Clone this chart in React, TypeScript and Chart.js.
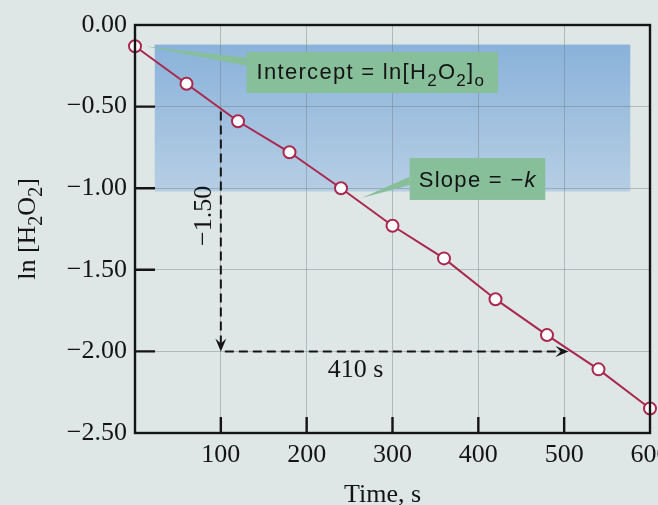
import { useEffect, useRef } from 'react';
import { Chart, registerables } from 'chart.js';

Chart.register(...registerables);

// ---- data ----
const times = [0, 60, 120, 180, 240, 300, 360, 420, 480, 540, 600];
const lnH2O2 = [-0.13, -0.36, -0.59, -0.78, -1.0, -1.23, -1.43, -1.68, -1.9, -2.11, -2.35];
const xRange = [0, 600];
const yRange = [-2.5, 0];
const xStep = 100;
const yStep = 0.5;

// ---- annotations (data units) ----
const shadeRegion = { x0: 23, x1: 577, y0: -0.12, y1: -1.02 };
const interceptBox = { x0: 130, x1: 423, y0: -0.165, y1: -0.417 };
const slopeBox = { x0: 320, x1: 478, y0: -0.815, y1: -1.072 };
const interceptLeader = { ax: 12, ay: -0.13, by0: -0.2, by1: -0.25 };
const slopeLeader = { ax: 264, ay: -1.06, by0: -0.93, by1: -0.98 };
const riseArrow = { x: 100, yFrom: -0.53, yTo: -2.0 };
const runArrow = { y: -2.0, xFrom: 100, xTo: 505 };
const riseLabel = { text: '\u22121.50', x: 78, y: -1.17 };
const runLabel = { text: '410 s', x: 257, y: -2.155 };

const SERIF = "'Liberation Serif', 'Times New Roman', serif";
const SANS = "'Liberation Sans', Arial, sans-serif";
const INK = '#141414';
const LINE = '#a8284e';
const PAPER = '#dee6e6';
const GREEN = '#86bf99';

type Part = { t: string; sub?: boolean; italic?: boolean };

function drawRich(ctx: CanvasRenderingContext2D, parts: Part[], x: number, y: number, size: number, family: string, spacing: number, align: 'left' | 'center') {
  const fontFor = (p: Part) => `${p.italic ? 'italic ' : ''}${p.sub ? Math.round(size * 0.78) : size}px ${family}`;
  (ctx as any).letterSpacing = spacing + 'px';
  let total = 0;
  for (const p of parts) {
    ctx.font = fontFor(p);
    total += ctx.measureText(p.t).width;
  }
  let cx = align === 'center' ? x - total / 2 : x;
  ctx.textAlign = 'left';
  ctx.textBaseline = 'alphabetic';
  for (const p of parts) {
    ctx.font = fontFor(p);
    ctx.fillText(p.t, cx, p.sub ? y + size * 0.28 : y);
    cx += ctx.measureText(p.t).width;
  }
  (ctx as any).letterSpacing = '0px';
}

function arrowHead(ctx: CanvasRenderingContext2D, tx: number, ty: number, dx: number, dy: number) {
  const len = 13, half = 5.5;
  const bx = tx - dx * len, by = ty - dy * len;
  const nx = -dy, ny = dx;
  ctx.beginPath();
  ctx.moveTo(tx, ty);
  ctx.lineTo(bx + nx * half, by + ny * half);
  ctx.lineTo(tx - dx * len * 0.6, ty - dy * len * 0.6);
  ctx.lineTo(bx - nx * half, by - ny * half);
  ctx.closePath();
  ctx.fill();
}

const decorPlugin = {
  id: 'decor',
  beforeDraw(chart: any) {
    const { ctx, scales } = chart;
    const X = (v: number) => scales.x.getPixelForValue(v);
    const Y = (v: number) => scales.y.getPixelForValue(v);
    ctx.save();
    ctx.fillStyle = PAPER;
    ctx.fillRect(0, 0, chart.width, chart.height);
    const y0 = Y(shadeRegion.y0), y1 = Y(shadeRegion.y1);
    const g = ctx.createLinearGradient(0, y0, 0, y1);
    g.addColorStop(0, 'rgb(138,178,218)');
    g.addColorStop(1, 'rgb(182,206,228)');
    ctx.fillStyle = g;
    ctx.fillRect(X(shadeRegion.x0), y0, X(shadeRegion.x1) - X(shadeRegion.x0), y1 - y0);
    ctx.restore();
  },
  beforeDatasetsDraw(chart: any) {
    const { ctx, scales } = chart;
    const X = (v: number) => scales.x.getPixelForValue(v);
    const Y = (v: number) => scales.y.getPixelForValue(v);
    ctx.save();
    ctx.fillStyle = GREEN;
    // leaders
    ctx.beginPath();
    ctx.moveTo(X(interceptLeader.ax), Y(interceptLeader.ay));
    ctx.lineTo(X(interceptBox.x0), Y(interceptLeader.by0));
    ctx.lineTo(X(interceptBox.x0), Y(interceptLeader.by1));
    ctx.closePath();
    ctx.fill();
    ctx.beginPath();
    ctx.moveTo(X(slopeLeader.ax), Y(slopeLeader.ay));
    ctx.lineTo(X(slopeBox.x0), Y(slopeLeader.by0));
    ctx.lineTo(X(slopeBox.x0), Y(slopeLeader.by1));
    ctx.closePath();
    ctx.fill();
    // boxes
    for (const b of [interceptBox, slopeBox]) {
      ctx.fillRect(X(b.x0), Y(b.y0), X(b.x1) - X(b.x0), Y(b.y1) - Y(b.y0));
    }
    ctx.fillStyle = INK;
    const iMid = (Y(interceptBox.y0) + Y(interceptBox.y1)) / 2;
    drawRich(ctx, [
      { t: 'Intercept = ln[H' }, { t: '2', sub: true }, { t: 'O' }, { t: '2', sub: true }, { t: ']' }, { t: 'o', sub: true },
    ], X(interceptBox.x0) + 10, iMid + 7, 22, SANS, 1.3, 'left');
    const sMid = (Y(slopeBox.y0) + Y(slopeBox.y1)) / 2;
    drawRich(ctx, [{ t: 'Slope = \u2212' }, { t: 'k', italic: true }], X(slopeBox.x0) + 9, sMid + 8, 22, SANS, 1.3, 'left');
    ctx.restore();
  },
  afterDatasetsDraw(chart: any) {
    const { ctx, scales, chartArea } = chart;
    const X = (v: number) => scales.x.getPixelForValue(v);
    const Y = (v: number) => scales.y.getPixelForValue(v);
    ctx.save();
    // dashed arrows
    ctx.strokeStyle = INK;
    ctx.fillStyle = INK;
    ctx.lineWidth = 2;
    ctx.setLineDash([9, 5]);
    ctx.beginPath();
    ctx.moveTo(X(riseArrow.x), Y(riseArrow.yFrom));
    ctx.lineTo(X(riseArrow.x), Y(riseArrow.yTo) - 8);
    ctx.moveTo(X(runArrow.xFrom) + 4, Y(runArrow.y));
    ctx.lineTo(X(runArrow.xTo) - 8, Y(runArrow.y));
    ctx.stroke();
    ctx.setLineDash([]);
    arrowHead(ctx, X(riseArrow.x), Y(riseArrow.yTo), 0, 1);
    arrowHead(ctx, X(runArrow.xTo), Y(runArrow.y), 1, 0);
    // labels
    ctx.font = `26px ${SERIF}`;
    ctx.textAlign = 'center';
    ctx.textBaseline = 'alphabetic';
    ctx.fillText(runLabel.text, X(runLabel.x), Y(runLabel.y));
    ctx.save();
    ctx.translate(X(riseLabel.x), Y(riseLabel.y));
    ctx.rotate(-Math.PI / 2);
    ctx.fillText(riseLabel.text, 0, 9);
    ctx.restore();
    // frame
    ctx.lineWidth = 2.4;
    ctx.strokeRect(chartArea.left, chartArea.top, chartArea.right - chartArea.left, chartArea.bottom - chartArea.top);
    // inward ticks
    ctx.lineWidth = 2.4;
    ctx.beginPath();
    for (const t of scales.x.ticks) {
      if (t.value <= xRange[0] || t.value >= xRange[1]) continue;
      const px = X(t.value);
      ctx.moveTo(px, chartArea.bottom);
      ctx.lineTo(px, chartArea.bottom - 16);
    }
    for (const t of scales.y.ticks) {
      if (t.value <= yRange[0] || t.value >= yRange[1]) continue;
      const py = Y(t.value);
      ctx.moveTo(chartArea.left, py);
      ctx.lineTo(chartArea.left + 20, py);
    }
    ctx.stroke();
    // axis titles
    ctx.fillStyle = INK;
    drawRich(ctx, [{ t: 'Time, s' }], (chartArea.left + chartArea.right) / 2 - 10, chartArea.bottom + 69, 26, SERIF, 0, 'center');
    ctx.save();
    ctx.translate(chartArea.left - 110, (chartArea.top + chartArea.bottom) / 2);
    ctx.rotate(-Math.PI / 2);
    drawRich(ctx, [{ t: 'ln [H' }, { t: '2', sub: true }, { t: 'O' }, { t: '2', sub: true }, { t: ']' }], 0, 10, 26, SERIF, 0, 'center');
    ctx.restore();
    ctx.restore();
  },
};

export default function App() {
  const ref = useRef<HTMLCanvasElement | null>(null);
  useEffect(() => {
    if (!ref.current) return;
    const chart = new Chart(ref.current, {
      type: 'line',
      data: {
        datasets: [
          {
            data: times.map((t, i) => ({ x: t, y: lnH2O2[i] })),
            borderColor: LINE,
            borderWidth: 2,
            pointRadius: 6,
            pointBorderWidth: 2,
            pointBackgroundColor: '#ffffff',
            pointBorderColor: LINE,
            tension: 0,
            clip: false as any,
          },
        ],
      },
      options: {
        animation: false,
        responsive: false,
        maintainAspectRatio: false,
        events: [],
        layout: { padding: { top: 25, right: 6, left: 0, bottom: 0 } },
        plugins: { legend: { display: false }, tooltip: { enabled: false }, title: { display: false } },
        scales: {
          x: {
            type: 'linear',
            min: xRange[0],
            max: xRange[1],
            border: { display: false },
            grid: {
              drawTicks: false,
              lineWidth: 1,
              color: (c: any) => (c.tick && (c.tick.value === xRange[0] || c.tick.value === xRange[1]) ? 'rgba(0,0,0,0)' : 'rgba(105,120,125,0.4)'),
            },
            ticks: {
              stepSize: xStep,
              padding: 7,
              color: INK,
              font: { family: SERIF, size: 26 },
              maxRotation: 0,
              callback: (v: any) => (v === xRange[0] ? '' : String(v)),
            },
            afterFit: (s: any) => {
              s.height = 72;
              s.paddingLeft = 0;
              s.paddingRight = 0;
            },
          },
          y: {
            type: 'linear',
            min: yRange[0],
            max: yRange[1],
            border: { display: false },
            grid: {
              drawTicks: false,
              lineWidth: 1,
              color: (c: any) => (c.tick && (c.tick.value === yRange[0] || c.tick.value === yRange[1]) ? 'rgba(0,0,0,0)' : 'rgba(105,120,125,0.4)'),
            },
            ticks: {
              stepSize: yStep,
              padding: 8,
              color: INK,
              font: { family: SERIF, size: 26 },
              callback: (v: any) => (v === 0 ? '0.00' : '\u2212' + Math.abs(v).toFixed(2)),
            },
            afterFit: (s: any) => {
              s.width = 135;
              s.paddingTop = 0;
              s.paddingBottom = 0;
            },
          },
        },
      },
      plugins: [decorPlugin],
    } as any);
    return () => chart.destroy();
  }, []);
  return (
    <div style={{ position: 'fixed', left: 0, top: 0, width: 658, height: 505 }}>
      <canvas ref={ref} width={658} height={505} style={{ display: 'block', width: 658, height: 505 }} />
    </div>
  );
}
